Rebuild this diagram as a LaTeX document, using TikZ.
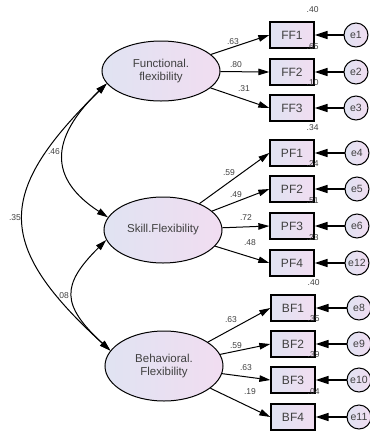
\documentclass[tikz,border=0pt]{standalone}
\usepackage{fontspec}
\setmainfont{Liberation Sans}
\usetikzlibrary{shapes.geometric,arrows.meta}
\definecolor{shadeL}{RGB}{224,227,242}
\definecolor{shadeR}{RGB}{241,221,241}
\definecolor{txtgray}{RGB}{64,64,64}

\begin{document}
\begin{tikzpicture}[x=1pt,y=-1pt,
	latent/.style={ellipse,draw,line width=1pt,left color=shadeL,right color=shadeR,inner sep=0pt,align=center,font=\fontsize{11.5}{12.5}\selectfont,text=txtgray},
	item/.style={rectangle,draw,line width=1.3pt,left color=shadeL,right color=shadeR,minimum width=44pt,minimum height=26pt,inner sep=0pt,font=\fontsize{12}{13}\selectfont,text=txtgray},
	err/.style={circle,draw,line width=1pt,left color=shadeL,right color=shadeR,minimum size=24pt,inner sep=0pt,font=\fontsize{10.5}{11}\selectfont,text=txtgray},
	coef/.style={inner sep=0pt,font=\fontsize{8.5}{9}\selectfont,text=txtgray},
	load/.style={line width=1pt,-{Triangle[length=11pt,width=6.5pt]}},
	resid/.style={line width=1.5pt,-{Triangle[length=13pt,width=8pt]}},
	cov/.style={line width=1pt,{Triangle[length=11pt,width=6.5pt]}-{Triangle[length=11pt,width=6.5pt]}}]
			\useasboundingbox (0,0) rectangle (370,432);
			% latent factors
			\node [latent,minimum width=118pt,minimum height=60pt] (func) at (161,71) {Functional.\\flexibility};
			\node [latent,minimum width=118pt,minimum height=66pt] (skill) at (163,230) {Skill.Flexibility};
			\node [latent,minimum width=118pt,minimum height=70pt] (behav) at (164,366) {Behavioral.\\Flexibility};
			% observed items
			\node [item] (ff1) at (292,35) {FF1};
			\node [item] (ff2) at (292,72) {FF2};
			\node [item] (ff3) at (292,108) {FF3};
			\node [item] (pf1) at (292,153) {PF1};
			\node [item] (pf2) at (292,189) {PF2};
			\node [item] (pf3) at (292,226) {PF3};
			\node [item] (pf4) at (292,263) {PF4};
			\node [item] (bf1) at (293,308) {BF1};
			\node [item] (bf2) at (293,344) {BF2};
			\node [item] (bf3) at (293,380) {BF3};
			\node [item] (bf4) at (293,417) {BF4};
			% error terms
			\node [err] (e1) at (356,35) {e1};
			\node [err] (e2) at (356,72) {e2};
			\node [err] (e3) at (356,108) {e3};
			\node [err] (e4) at (357,153) {e4};
			\node [err] (e5) at (357,189) {e5};
			\node [err] (e6) at (357,226) {e6};
			\node [err] (e12) at (357,263) {e12};
			\node [err] (e8) at (359,308) {e8};
			\node [err] (e9) at (359,344) {e9};
			\node [err] (e10) at (359,380) {e10};
			\node [err] (e11) at (359,417) {e11};
			% loadings
			\draw [load] (func) -- (ff1.west);
			\draw [load] (func) -- (ff2.west);
			\draw [load] (func) -- (ff3.west);
			\draw [load] (skill) -- (pf1.west);
			\draw [load] (skill) -- (pf2.west);
			\draw [load] (skill) -- (pf3.west);
			\draw [load] (skill) -- (pf4.west);
			\draw [load] (behav) -- (bf1.west);
			\draw [load] (behav) -- (bf2.west);
			\draw [load] (behav) -- (bf3.west);
			\draw [load] (behav) -- (bf4.west);
			% residuals
			\draw [resid] (e1) -- (ff1);
			\draw [resid] (e2) -- (ff2);
			\draw [resid] (e3) -- (ff3);
			\draw [resid] (e4) -- (pf1);
			\draw [resid] (e5) -- (pf2);
			\draw [resid] (e6) -- (pf3);
			\draw [resid] (e12) -- (pf4);
			\draw [resid] (e8) -- (bf1);
			\draw [resid] (e9) -- (bf2);
			\draw [resid] (e10) -- (bf3);
			\draw [resid] (e11) -- (bf4);
			% covariances
			\draw [cov] (func.193) .. controls (49,139) and (49,179) .. (skill.167);
			\draw [cov] (skill.190) .. controls (61,285) and (61,305) .. (behav.164);
			\draw [cov] (func.193) .. controls (-5,193) and (-5,245) .. (behav.164);
			\node [coef] (c46) at (54,152) {.46};
			\node [coef] (c08) at (63,296) {.08};
			\node [coef] (c35) at (15,218) {.35};
			% standardized weights
			\node [coef] (w1) at (233,42) {.63};
			\node [coef] (w2) at (236,65) {.80};
			\node [coef] (w3) at (244,89) {.31};
			\node [coef] (w4) at (229,173) {.59};
			\node [coef] (w5) at (236,195) {.49};
			\node [coef] (w6) at (246,218) {.72};
			\node [coef] (w7) at (250,243) {.48};
			\node [coef] (w8) at (231,320) {.63};
			\node [coef] (w9) at (236,346) {.59};
			\node [coef] (w10) at (246,368) {.63};
			\node [coef] (w11) at (250,392) {.19};
			% squared multiple correlations
			\node [coef] (r1) at ([shift={(-2pt,12pt)}]ff1.north east) {.40};
			\node [coef] (r2) at ([shift={(-2pt,12pt)}]ff2.north east) {.65};
			\node [coef] (r3) at ([shift={(-2pt,12pt)}]ff3.north east) {.10};
			\node [coef] (r4) at ([shift={(-2pt,12pt)}]pf1.north east) {.34};
			\node [coef] (r5) at ([shift={(-2pt,12pt)}]pf2.north east) {.24};
			\node [coef] (r6) at ([shift={(-2pt,12pt)}]pf3.north east) {.51};
			\node [coef] (r7) at ([shift={(-2pt,12pt)}]pf4.north east) {.23};
			\node [coef] (r8) at ([shift={(-2pt,12pt)}]bf1.north east) {.40};
			\node [coef] (r9) at ([shift={(-2pt,12pt)}]bf2.north east) {.35};
			\node [coef] (r10) at ([shift={(-2pt,12pt)}]bf3.north east) {.39};
			\node [coef] (r11) at ([shift={(-2pt,12pt)}]bf4.north east) {.04};
		\end{tikzpicture}
\end{document}
